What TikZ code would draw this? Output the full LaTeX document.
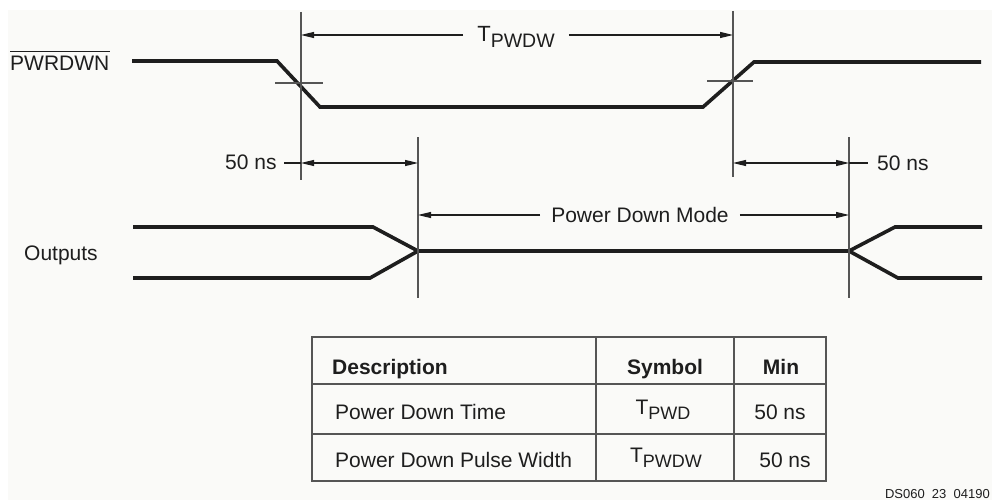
\documentclass[tikz,border=0pt]{standalone}
\usepackage{fontspec}
\setmainfont{Liberation Sans}
\usetikzlibrary{arrows.meta}
\definecolor{ink}{RGB}{30,30,30}
\definecolor{thin}{RGB}{85,85,85}
\definecolor{bg}{RGB}{250,250,248}
\newcommand{\subtx}[1]{\raisebox{-5pt}{\fontsize{18}{18}\selectfont #1}}
\newcommand{\subtxbig}[1]{\raisebox{-5.5pt}{\fontsize{19.5}{19.5}\selectfont #1}}
\begin{document}
\begin{tikzpicture}[x=1pt,y=-1pt,
  sig/.style={line width=3.6pt, draw=ink, line join=miter},
  vline/.style={line width=1.3pt, draw=thin},
  tickline/.style={line width=1.3pt, draw=thin},
  lead/.style={line width=1.2pt, draw=ink},
  dim/.style={line width=1.2pt, draw=ink, -{Triangle[length=13pt,width=6pt]}},
  dimb/.style={line width=1.2pt, draw=ink, {Triangle[length=13pt,width=6pt]}-{Triangle[length=13pt,width=6pt]}},
  lbl/.style={inner sep=0pt, font=\fontsize{21}{25}\selectfont, text=ink},
  blbl/.style={lbl, font=\fontsize{21}{25}\selectfont\bfseries},
  tbl/.style={line width=1.3pt, draw=thin}
]
\useasboundingbox (0,0) rectangle (992,500);
\fill[bg] (8,10) rectangle (992,500);

% PWRDWN signal
\node[lbl, anchor=base west] (pw) at (10,71) {PWRDWN};
\draw[line width=1.2pt, ink] ([yshift=5pt]pw.north west) -- ([yshift=5pt]pw.north east);
\draw[sig] (132,61) -- (277,61) -- (320,107) -- (703,107) -- (754,62) -- (981,62);
\coordinate (k1a) at (275,83); \coordinate (k1b) at (323,83);
\coordinate (k2a) at (707,81); \coordinate (k2b) at (753,81);
\draw[tickline] (k1a) -- (k1b);
\draw[tickline] (k2a) -- (k2b);

% Outputs signal
\node[lbl, anchor=base west] (out) at (24,260) {Outputs};
\draw[sig] (133,227) -- (373,227) -- (418,251) -- (849,251) -- (895,227) -- (982,227);
\draw[sig] (133,278) -- (370,278) -- (418,251);
\draw[sig] (849,251) -- (898,278) -- (982,278);

% vertical reference lines
\coordinate (v1t) at (301,12);  \coordinate (v1b) at (301,180);
\coordinate (v2t) at (418,137); \coordinate (v2b) at (418,298);
\coordinate (v3t) at (733,11);  \coordinate (v3b) at (733,177);
\coordinate (v4t) at (849,137); \coordinate (v4b) at (849,298);
\draw[vline] (v1t) -- (v1b);
\draw[vline] (v2t) -- (v2b);
\draw[vline] (v3t) -- (v3b);
\draw[vline] (v4t) -- (v4b);

% T_PWDW
\node[lbl, inner xsep=14pt, font=\fontsize{22}{25}\selectfont] (tp) at (516,37) {T\subtxbig{PWDW}};
\coordinate (a1) at (301,35); \coordinate (a2) at (733,35);
\draw[dim] (tp.west |- a1) -- (a1);
\draw[dim] (tp.east |- a2) -- (a2);

% 50 ns left
\node[lbl, anchor=base west] (n1) at (225,169) {50 ns};
\coordinate (l1) at (284,163);
\coordinate (b1) at (301,163); \coordinate (b2) at (418,163);
\draw[lead] (l1) -- (b1);
\draw[dimb] (b1) -- (b2);

% 50 ns right
\node[lbl, anchor=base west] (n2) at (877,170) {50 ns};
\coordinate (l2) at (868,163);
\coordinate (c1) at (733,163); \coordinate (c2) at (849,163);
\draw[lead] (c2) -- (l2);
\draw[dimb] (c1) -- (c2);

% Power Down Mode
\node[lbl, anchor=base, inner xsep=11pt] (pdm) at (640,222) {Power Down Mode};
\coordinate (p1) at (418,215); \coordinate (p2) at (849,215);
\draw[dim] (pdm.west |- p1) -- (p1);
\draw[dim] (pdm.east |- p2) -- (p2);

% table
\draw[tbl] (312,337) rectangle (826,481);
\draw[tbl] (312,384) -- (826,384);
\draw[tbl] (312,434) -- (826,434);
\draw[tbl] (596,337) -- (596,481);
\draw[tbl] (734,337) -- (734,481);
\node[blbl, anchor=base west] (h1) at (332,374) {Description};
\node[blbl, anchor=base] (h2) at (665,374) {Symbol};
\node[blbl, anchor=base] (h3) at (781,374) {Min};
\node[lbl, anchor=base west] (r1a) at (335,419) {Power Down Time};
\node[lbl, anchor=base] (r1b) at (663,414) {T\subtx{PWD}};
\node[lbl, anchor=base] (r1c) at (780,419) {50 ns};
\node[lbl, anchor=base west] (r2a) at (335,467) {Power Down Pulse Width};
\node[lbl, anchor=base] (r2b) at (666,462) {T\subtx{PWDW}};
\node[lbl, anchor=base] (r2c) at (785,467) {50 ns};

\node[inner sep=0pt, anchor=base east, font=\fontsize{13}{13}\selectfont, text=ink] (ds) at (990,498) {DS060\ \ 23\ \ 04190};
\end{tikzpicture}
\end{document}
